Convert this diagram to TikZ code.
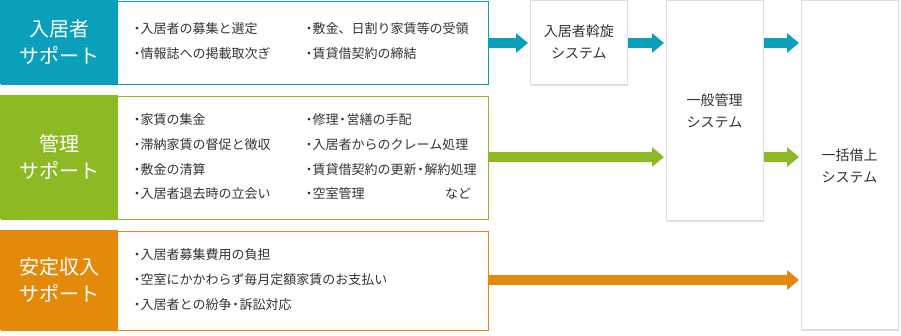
\documentclass[tikz,border=0pt]{standalone}
\usepackage{fontspec}
\setmainfont{Noto Sans CJK JP}
\usetikzlibrary{arrows.meta,shadows}
\definecolor{cteal}{HTML}{0AA0BC}
\definecolor{cgreen}{HTML}{8DB925}
\definecolor{corange}{HTML}{E5890A}
\definecolor{ctext}{HTML}{333333}
\definecolor{cgrayb}{HTML}{DDDDDD}
\newcommand{\bul}{\hspace*{-3.5pt}・\hspace{-3pt}}
\newcommand{\mdot}{\hspace{-2.5pt}・\hspace{-2.5pt}}
\begin{document}
\begin{tikzpicture}[x=1pt,y=-1pt,
  outerbox/.style={draw=#1, line width=1pt, anchor=north west, inner sep=0pt},
  tagbox/.style={fill=#1, anchor=north west, inner sep=0pt, text=white, align=center, font=\fontsize{20}{27.5}\selectfont},
  item/.style={anchor=west, inner sep=0pt, text=ctext, font=\fontsize{13}{14}\selectfont},
  sysbox/.style={draw=cgrayb, fill=white, line width=0.8pt, anchor=north west, inner sep=0pt,
     drop shadow={shadow xshift=0.5pt, shadow yshift=-2pt, fill=black, opacity=0.12},
     text=ctext, align=center, font=\fontsize{14}{22}\selectfont},
  flow/.style={line width=10pt, draw=#1, -{Triangle[length=12pt,width=19pt]}, shorten >=2pt}
]
\useasboundingbox (0,0) rectangle (901,335);
% left boxes
\node[outerbox=cteal, minimum width=487pt, minimum height=83pt] (top) at (0.5,0.5) {};
\node[tagbox=cteal, minimum width=118pt, minimum height=84pt] (toptag) at (0,0) {入居者\\サポート};
\node[outerbox=cgreen, minimum width=487pt, minimum height=123pt] (mid) at (0.5,95.5) {};
\node[tagbox=cgreen, minimum width=118pt, minimum height=124pt] (midtag) at (0,95) {管理\\サポート};
\node[outerbox=corange, minimum width=487pt, minimum height=99pt] (bot) at (0.5,230.5) {};
\node[tagbox=corange, minimum width=118pt, minimum height=100pt] (bottag) at (0,230) {安定収入\\サポート};
% items
\node[item] (t1) at (134,29) {\bul 入居者の募集と選定};
\node[item] (t2) at (134,54) {\bul 情報誌への掲載取次ぎ};
\node[item] (t3) at (306,29) {\bul 敷金、日割り家賃等の受領};
\node[item] (t4) at (306,54) {\bul 賃貸借契約の締結};
\node[item] (m1) at (134,120) {\bul 家賃の集金};
\node[item] (m2) at (134,145) {\bul 滞納家賃の督促と徴収};
\node[item] (m3) at (134,169.5) {\bul 敷金の清算};
\node[item] (m4) at (134,194) {\bul 入居者退去時の立会い};
\node[item] (m5) at (306,120) {\bul 修理\mdot 営繕の手配};
\node[item] (m6) at (306,145) {\bul 入居者からのクレーム処理};
\node[item] (m7) at (306,169.5) {\bul 賃貸借契約の更新\mdot 解約処理};
\node[item] (m8) at (306,194) {\bul 空室管理};
\node[item] (m9) at (445,194) {など};
\node[item] (b1) at (134,255) {\bul 入居者募集費用の負担};
\node[item] (b2) at (134,280) {\bul 空室にかかわらず毎月定額家賃のお支払い};
\node[item] (b3) at (134,305) {\bul 入居者との紛争\mdot 訴訟対応};
% systems
\node[sysbox, minimum width=97pt, minimum height=84pt] (s1) at (530,0) {入居者斡旋\\システム};
\node[sysbox, minimum width=97pt, minimum height=220pt] (s2) at (666,0) {};
\node[text=ctext, align=center, font=\fontsize{14}{22}\selectfont] (s2t) at (714.5,111) {一般管理\\システム};
\node[sysbox, minimum width=97pt, minimum height=329pt] (s3) at (801,0) {};
\node[text=ctext, align=center, font=\fontsize{14}{22}\selectfont] (s3t) at (849.5,166) {一括借上\\システム};
% arrows
\coordinate (yt) at (0,43);
\coordinate (ym) at (0,157);
\coordinate (yb) at (0,280);
\draw[flow=cteal] (top.east |- yt) -- (s1.west |- yt);
\draw[flow=cteal] (s1.east |- yt) -- (s2.west |- yt);
\draw[flow=cteal] (s2.east |- yt) -- (s3.west |- yt);
\draw[flow=cgreen] (mid.east |- ym) -- (s2.west |- ym);
\draw[flow=cgreen] (s2.east |- ym) -- (s3.west |- ym);
\draw[flow=corange] (bot.east |- yb) -- (s3.west |- yb);
\end{tikzpicture}
\end{document}
